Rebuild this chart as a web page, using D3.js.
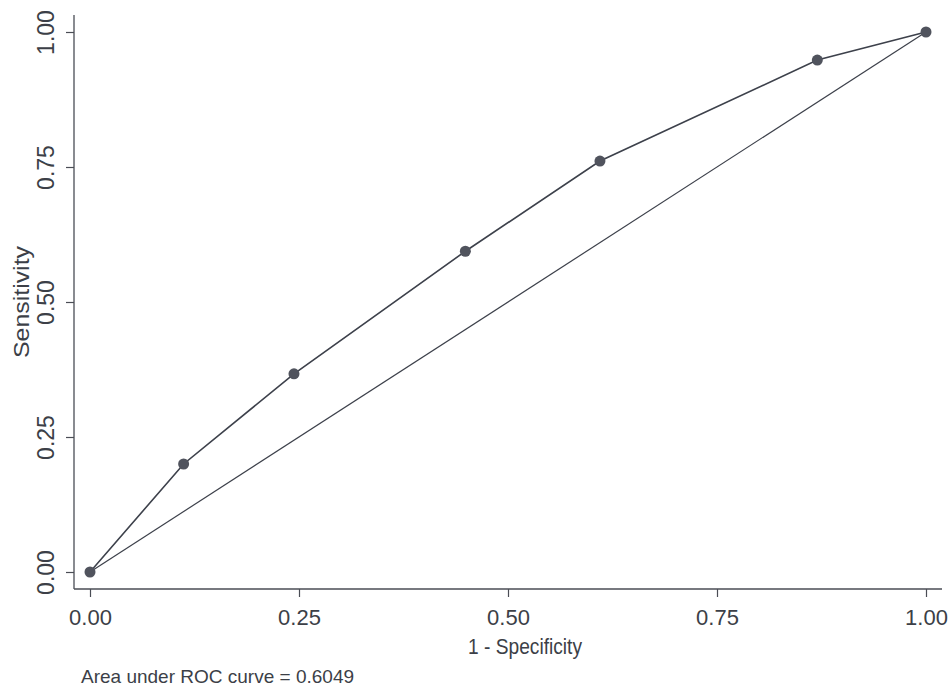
<!DOCTYPE html>
<html>
<head>
<meta charset="utf-8">
<script src="https://cdn.jsdelivr.net/npm/d3@7"></script>
<style>
  body { margin: 0; background: #fff; }
  text { font-family: "Liberation Sans", Arial, sans-serif; fill: #3c3f47; }
</style>
</head>
<body>
<div id="chart"></div>
<script>
// ROC points (1 - specificity, sensitivity)
const fpr = [0, 0.112, 0.244, 0.449, 0.610, 0.870, 1];
const tpr = [0, 0.200, 0.367, 0.594, 0.761, 0.948, 1];
const diagonal = [0, 1];
const tickValues = [0, 0.25, 0.5, 0.75, 1];
const aucText = "Area under ROC curve = 0.6049";

const width = 952, height = 690;

const svg = d3.select("#chart").append("svg")
  .attr("width", width)
  .attr("height", height);

// scales
const x = d3.scaleLinear().domain([0, 1]).range([90, 926]);
const y = d3.scaleLinear().domain([0, 1]).range([572, 32]);

const axisColor = "#4a4d55";
const lineColor = "#3d414b";

// axis lines (drawn by hand so they extend beyond the tick range like the original)
svg.append("line")
  .attr("x1", 74).attr("x2", 74)
  .attr("y1", 15).attr("y2", 589)
  .attr("stroke", axisColor).attr("stroke-width", 1.3);
svg.append("line")
  .attr("x1", 74).attr("x2", 942)
  .attr("y1", 589).attr("y2", 589)
  .attr("stroke", axisColor).attr("stroke-width", 1.3);

// x axis
const xAxis = svg.append("g")
  .attr("transform", "translate(0, 589)")
  .call(d3.axisBottom(x).tickValues(tickValues).tickFormat(d3.format(".2f")).tickSize(8).tickPadding(12));
xAxis.select(".domain").remove();
xAxis.selectAll(".tick line").attr("stroke", axisColor).attr("stroke-width", 1.2);
xAxis.selectAll(".tick text")
  .attr("font-size", "22px")
  .attr("font-family", "Liberation Sans, Arial, sans-serif")
  .attr("fill", "#3c3f47");

// y axis
const yAxis = svg.append("g")
  .attr("transform", "translate(74, 0)")
  .call(d3.axisLeft(y).tickValues(tickValues).tickFormat(d3.format(".2f")).tickSize(8));
yAxis.select(".domain").remove();
yAxis.selectAll(".tick line").attr("stroke", axisColor).attr("stroke-width", 1.2);
yAxis.selectAll(".tick text")
  .attr("font-size", "23px")
  .attr("font-family", "Liberation Sans, Arial, sans-serif")
  .attr("fill", "#3c3f47")
  .attr("text-anchor", "middle")
  .attr("dy", null)
  .attr("x", null)
  .attr("transform", "translate(-20, 0) rotate(-90)");

// axis titles
svg.append("text")
  .attr("x", 525)
  .attr("y", 654)
  .attr("text-anchor", "middle")
  .attr("font-size", "22px")
  .attr("textLength", 114)
  .attr("lengthAdjust", "spacingAndGlyphs")
  .text("1 - Specificity");

svg.append("text")
  .attr("transform", `translate(29, ${y(0.5)}) rotate(-90)`)
  .attr("text-anchor", "middle")
  .attr("font-size", "22px")
  .attr("textLength", 112)
  .attr("lengthAdjust", "spacingAndGlyphs")
  .text("Sensitivity");

// reference diagonal
svg.append("path")
  .attr("fill", "none")
  .attr("stroke", lineColor)
  .attr("stroke-width", 1.2)
  .attr("d", d3.line()(diagonal.map(d => [x(d), y(d)])));

// ROC curve
const pts = fpr.map((d, i) => ({ fx: d, ty: tpr[i] }));
svg.append("path")
  .attr("fill", "none")
  .attr("stroke", lineColor)
  .attr("stroke-width", 1.6)
  .attr("d", d3.line().x(d => x(d.fx)).y(d => y(d.ty))(pts));

svg.selectAll("circle.pt")
  .data(pts)
  .enter().append("circle")
  .attr("class", "pt")
  .attr("cx", d => x(d.fx))
  .attr("cy", d => y(d.ty))
  .attr("r", 5.5)
  .attr("fill", "#50535d");

// note
svg.append("text")
  .attr("x", 81)
  .attr("y", 683)
  .attr("font-size", "19px")
  .text(aucText);
</script>
</body>
</html>
